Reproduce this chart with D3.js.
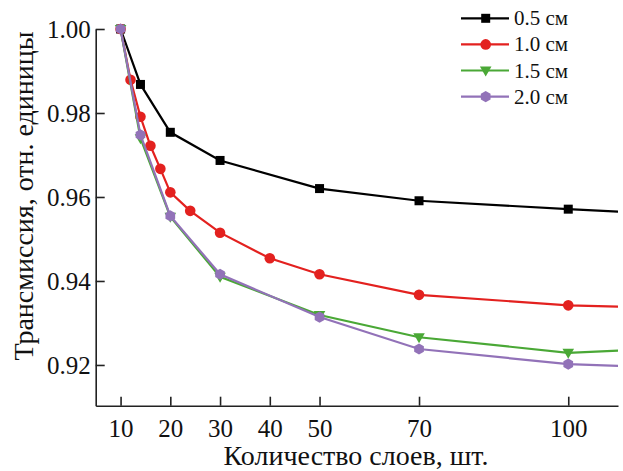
<!DOCTYPE html>
<html><head><meta charset="utf-8">
<script src="https://cdn.jsdelivr.net/npm/d3@7"></script>
<style>body{margin:0;background:#fff}svg{display:block}svg text{font-family:'Liberation Serif','Times New Roman','DejaVu Serif',serif !important;fill:#111}</style>
</head><body>
<script>
const xTicks = [10, 20, 30, 40, 50, 70, 100];
const yTicks = [0.92, 0.94, 0.96, 0.98, 1.00];
const seriesNames = ["0.5 см", "1.0 см", "1.5 см", "2.0 см"];
const colors = ["#000000", "#e3211f", "#4aa836", "#9272b8"];
const shapes = ["square", "circle", "triangleDown", "hexagon"];
const xBlack = [10, 14, 20, 30, 50, 70, 100, 120];
const yBlack = [1.00, 0.9868, 0.9754, 0.9687, 0.9620, 0.9591, 0.9571, 0.9559];
const xRed = [10, 12, 14, 16, 18, 20, 24, 30, 40, 50, 70, 100, 120];
const yRed = [1.00, 0.9879, 0.9791, 0.9722, 0.9667, 0.9611, 0.9567, 0.9515, 0.9454, 0.9416, 0.9367, 0.9342, 0.9336];
const xGreen = [10, 14, 20, 30, 50, 70, 100, 120];
const yGreen = [1.00, 0.9740, 0.9553, 0.9410, 0.9319, 0.9266, 0.9229, 0.9239];
const xPurple = [10, 14, 20, 30, 50, 70, 100, 120];
const yPurple = [1.00, 0.9748, 0.9555, 0.9416, 0.9314, 0.9238, 0.9202, 0.9194];

const series = [[xBlack, yBlack], [xRed, yRed], [xGreen, yGreen], [xPurple, yPurple]].map((s, i) => ({
  name: seriesNames[i], color: colors[i], shape: shapes[i],
  pts: s[0].map((x, j) => ({x, y: s[1][j]}))
}));

const FONT = "Liberation Serif, Times New Roman, DejaVu Serif, serif";
const W = 623, H = 471;
const svg = d3.select("body").append("svg").attr("width", W).attr("height", H).attr("font-family", FONT);
const x = d3.scaleLinear().domain([5, 110]).range([95.7, 618]);
const y = d3.scaleLinear().domain([0.9103, 1.00]).range([405.7, 29]);

function marker(g, shape, cx, cy, color) {
  if (shape === "square") {
    g.append("rect").attr("x", cx - 4.5).attr("y", cy - 4.5).attr("width", 9).attr("height", 9).attr("fill", color);
  } else if (shape === "circle") {
    g.append("circle").attr("cx", cx).attr("cy", cy).attr("r", 5.3).attr("fill", color);
  } else if (shape === "triangleDown") {
    g.append("path").attr("d", `M${cx-5.8},${cy-4} L${cx+5.8},${cy-4} L${cx},${cy+6} Z`).attr("fill", color);
  } else {
    const r = 5.6;
    const p = d3.range(6).map(k => { const a = Math.PI / 6 + k * Math.PI / 3; return [cx + r * Math.cos(a), cy + r * Math.sin(a)]; });
    g.append("path").attr("d", "M" + p.map(q => q.join(",")).join("L") + "Z").attr("fill", color);
  }
}

svg.append("clipPath").attr("id", "clip").append("rect").attr("x", 96).attr("y", 0).attr("width", 522).attr("height", 406);
const plot = svg.append("g").attr("clip-path", "url(#clip)");
const line = d3.line().x(d => x(d.x)).y(d => y(d.y));
series.forEach(s => {
  const g = plot.append("g");
  g.append("path").datum(s.pts).attr("d", line).attr("fill", "none").attr("stroke", s.color).attr("stroke-width", 2.2);
  s.pts.forEach(p => marker(g, s.shape, x(p.x), y(p.y), s.color));
});

// axes
const xAxis = svg.append("g").attr("transform", "translate(0,405.7)")
  .call(d3.axisBottom(x).tickValues(xTicks).tickSize(-9).tickSizeOuter(0).tickPadding(0).tickFormat(d3.format("d")));
xAxis.attr("font-family", FONT).attr("font-size", null);
xAxis.select(".domain").attr("stroke", "#222").attr("stroke-width", 1.6);
xAxis.selectAll(".tick line").attr("stroke", "#222").attr("stroke-width", 1.6);
xAxis.selectAll(".tick text").attr("font-size", 25).attr("dy", null).attr("y", 31).attr("fill", "#111");

const yAxis = svg.append("g").attr("transform", "translate(95.7,0)")
  .call(d3.axisLeft(y).tickValues(yTicks).tickSize(-9).tickSizeOuter(0).tickPadding(0).tickFormat(d3.format(".2f")));
yAxis.attr("font-family", FONT).attr("font-size", null);
yAxis.select(".domain").attr("stroke", "#222").attr("stroke-width", 1.6);
yAxis.selectAll(".tick line").attr("stroke", "#222").attr("stroke-width", 1.6);
yAxis.selectAll(".tick text").attr("font-size", 25).attr("x", -5).attr("dy", "0.33em").attr("fill", "#111");

svg.append("text").attr("x", 356).attr("y", 465).attr("text-anchor", "middle").attr("font-size", 28)
  .text("Количество слоев, шт.");
svg.append("text").attr("transform", "translate(33,196) rotate(-90)").attr("text-anchor", "middle").attr("font-size", 28)
  .text("Трансмиссия, отн. единицы");

// legend
const leg = svg.append("g");
series.forEach((s, i) => {
  const ly = 18.3 + i * 26.1;
  leg.append("line").attr("x1", 461).attr("x2", 509).attr("y1", ly).attr("y2", ly).attr("stroke", s.color).attr("stroke-width", 2.2);
  marker(leg, s.shape, 485.7, ly, s.color);
  leg.append("text").attr("x", 514).attr("y", ly + 7).attr("font-size", 21).text(s.name);
});
svg.selectAll("text").attr("font-family", FONT);
</script>
</body></html>
